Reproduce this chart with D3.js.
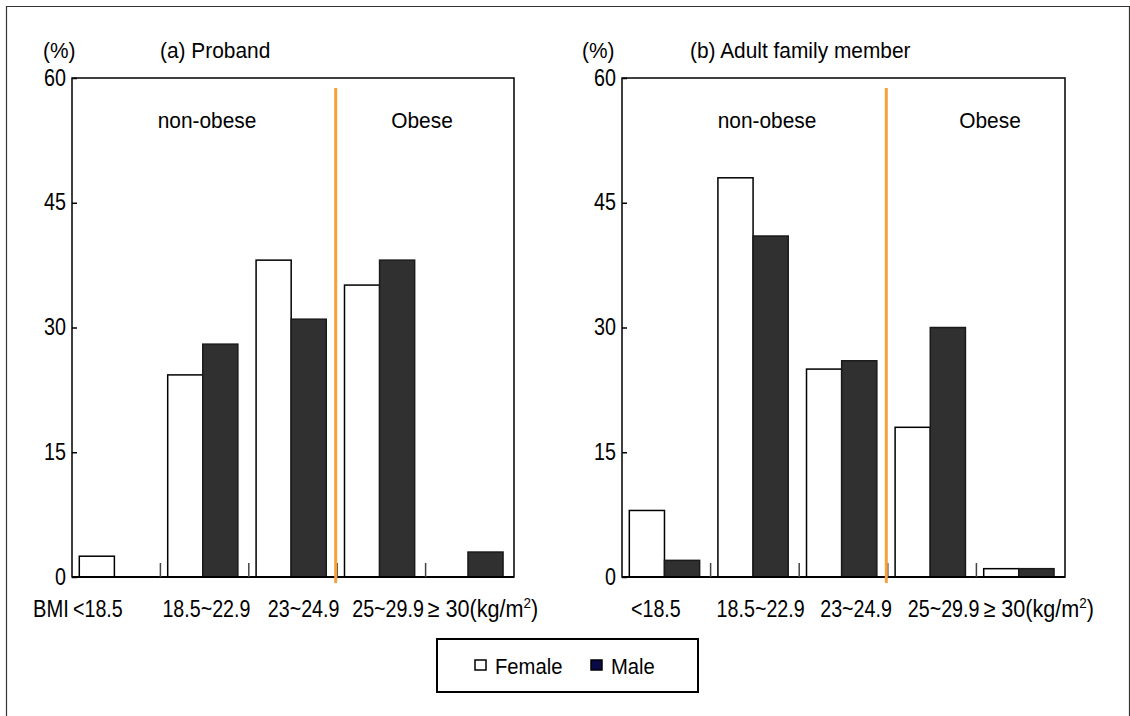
<!DOCTYPE html>
<html><head><meta charset="utf-8">
<script src="https://cdn.jsdelivr.net/npm/d3@7"></script>
<style>body{margin:0;background:#fff}</style></head>
<body>
<svg id="c" width="1130" height="716"></svg>
<script>
// ---- data ----
const categories = ["<18.5", "18.5~22.9", "23~24.9", "25~29.9", "≥ 30"];
const seriesNames = ["Female", "Male"];
const probandFemale = [2.5, 24.3, 38.1, 35.1, 0];
const probandMale = [0, 28, 31, 38.1, 3];
const adultFemale = [8, 48, 25, 18, 1];
const adultMale = [2, 41, 26, 30, 1];
const yTickValues = [0, 15, 30, 45, 60];
const groupLabels = ["non-obese", "Obese"];

const svg = d3.select("#c");
const FONT = '"Liberation Sans", Arial, sans-serif';

function txt(g, x, y, s, anchor, size, sx) {
  const t = g.append("text")
    .attr("text-anchor", anchor)
    .attr("font-size", size)
    .attr("font-family", FONT)
    .attr("fill", "#000")
    .attr("transform", `translate(${x},${y}) scale(${sx || 1},1)`);
  t.text(s);
  return t;
}

// outer border
svg.append("path").attr("d", "M6.5,716 V6.5 H1129.5 V716")
  .attr("fill", "none").attr("stroke", "#333").attr("stroke-width", 1.2);

const y = d3.scaleLinear().domain([0, 60]).range([577, 78]);

const panels = [
  { range: [72, 514], title: "(a) Proband", titleX: 160, pctX: 43,
    female: probandFemale, male: probandMale, bmi: true,
    labelNudge: [1, 2, 19, 15, 2], groupCenters: [207, 422] },
  { range: [622, 1065], title: "(b) Adult family member", titleX: 690, pctX: 582,
    female: adultFemale, male: adultMale, bmi: false,
    labelNudge: [9, 6, 21, 20, 7], groupCenters: [767, 990] }
];

panels.forEach(p => {
  const g = svg.append("g");
  const x0 = d3.scaleBand().domain(categories).range(p.range).paddingInner(0).paddingOuter(0);
  const x1 = d3.scaleBand().domain(seriesNames).range([0, x0.bandwidth()])
    .paddingInner(0).paddingOuter(0.26).align(0.4);
  const [L, R] = p.range;

  // titles
  txt(g, p.pctX, 58, "(%)", "start", 22, 0.95);
  txt(g, p.titleX, 58, p.title, "start", 22, 0.95);

  // bars
  const rows = categories.map((c, i) => ({ c, Female: p.female[i], Male: p.male[i] }));
  rows.forEach(r => {
    seriesNames.forEach(s => {
      if (r[s] <= 0) return;
      g.append("rect")
        .attr("x", x0(r.c) + x1(s))
        .attr("y", y(r[s]))
        .attr("width", x1.bandwidth())
        .attr("height", y(0) - y(r[s]))
        .attr("fill", s === "Female" ? "#fff" : "#303030")
        .attr("stroke", s === "Female" ? "#000" : "#1a1a1a")
        .attr("stroke-width", 1.5);
    });
  });

  // frame
  g.append("rect").attr("x", L).attr("y", y(60)).attr("width", R - L).attr("height", y(0) - y(60))
    .attr("fill", "none").attr("stroke", "#000").attr("stroke-width", 1.5);
  g.append("line").attr("x1", L).attr("x2", R).attr("y1", y(0)).attr("y2", y(0))
    .attr("stroke", "#000").attr("stroke-width", 2.2);

  // y axis ticks (inward) and labels
  const ya = d3.axisLeft(y).tickValues(yTickValues).tickSize(-5).tickPadding(0).tickFormat(d3.format("d"));
  const yg = g.append("g").attr("transform", `translate(${L},0)`).call(ya);
  yg.select(".domain").remove();
  yg.selectAll(".tick line").attr("stroke", "#000").attr("stroke-width", 1.5);
  yg.selectAll(".tick text").remove();
  yTickValues.forEach(v => txt(g, L - 6, y(v) + 7.5, String(v), "end", 23.5, 0.84));

  // x category boundary ticks
  categories.slice(1).forEach(c => {
    g.append("line").attr("x1", x0(c)).attr("x2", x0(c)).attr("y1", y(0)).attr("y2", y(0) - 14)
      .attr("stroke", "#444").attr("stroke-width", 1.5);
  });

  // orange divider
  const dx = x0(categories[3]) - 1.5;
  g.append("line").attr("x1", dx).attr("x2", dx).attr("y1", 88).attr("y2", 583)
    .attr("stroke", "#F7A03C").attr("stroke-width", 3);

  // group labels
  txt(g, p.groupCenters[0], 128, groupLabels[0], "middle", 22, 0.95);
  txt(g, p.groupCenters[1], 128, groupLabels[1], "middle", 22, 0.95);

  // x labels
  if (p.bmi) txt(g, 33, 617, "BMI", "start", 24, 0.84);
  categories.forEach((c, i) => {
    const last = i === categories.length - 1;
    const t = txt(g, x0(c) + p.labelNudge[i], 617, c, "start", 24, last ? 0.9 : 0.82);
    if (last) {
      t.append("tspan").text("(kg/m");
      t.append("tspan").attr("font-size", 15).attr("dy", -9).text("2");
      t.append("tspan").attr("dy", 9).text(")");
    }
  });
});

// legend
const lg = svg.append("g");
lg.append("rect").attr("x", 437).attr("y", 639).attr("width", 261).attr("height", 53)
  .attr("fill", "#fff").attr("stroke", "#000").attr("stroke-width", 2);
const legendX = d3.scaleOrdinal().domain(seriesNames).range([475, 591]);
seriesNames.forEach(s => {
  lg.append("rect").attr("x", legendX(s)).attr("y", 660).attr("width", 11).attr("height", 10)
    .attr("fill", s === "Female" ? "#fff" : "#0a0a4a").attr("stroke", "#000").attr("stroke-width", 1.5);
  txt(lg, legendX(s) + 20, 674, s, "start", 22, 0.92);
});
</script>
</body></html>
